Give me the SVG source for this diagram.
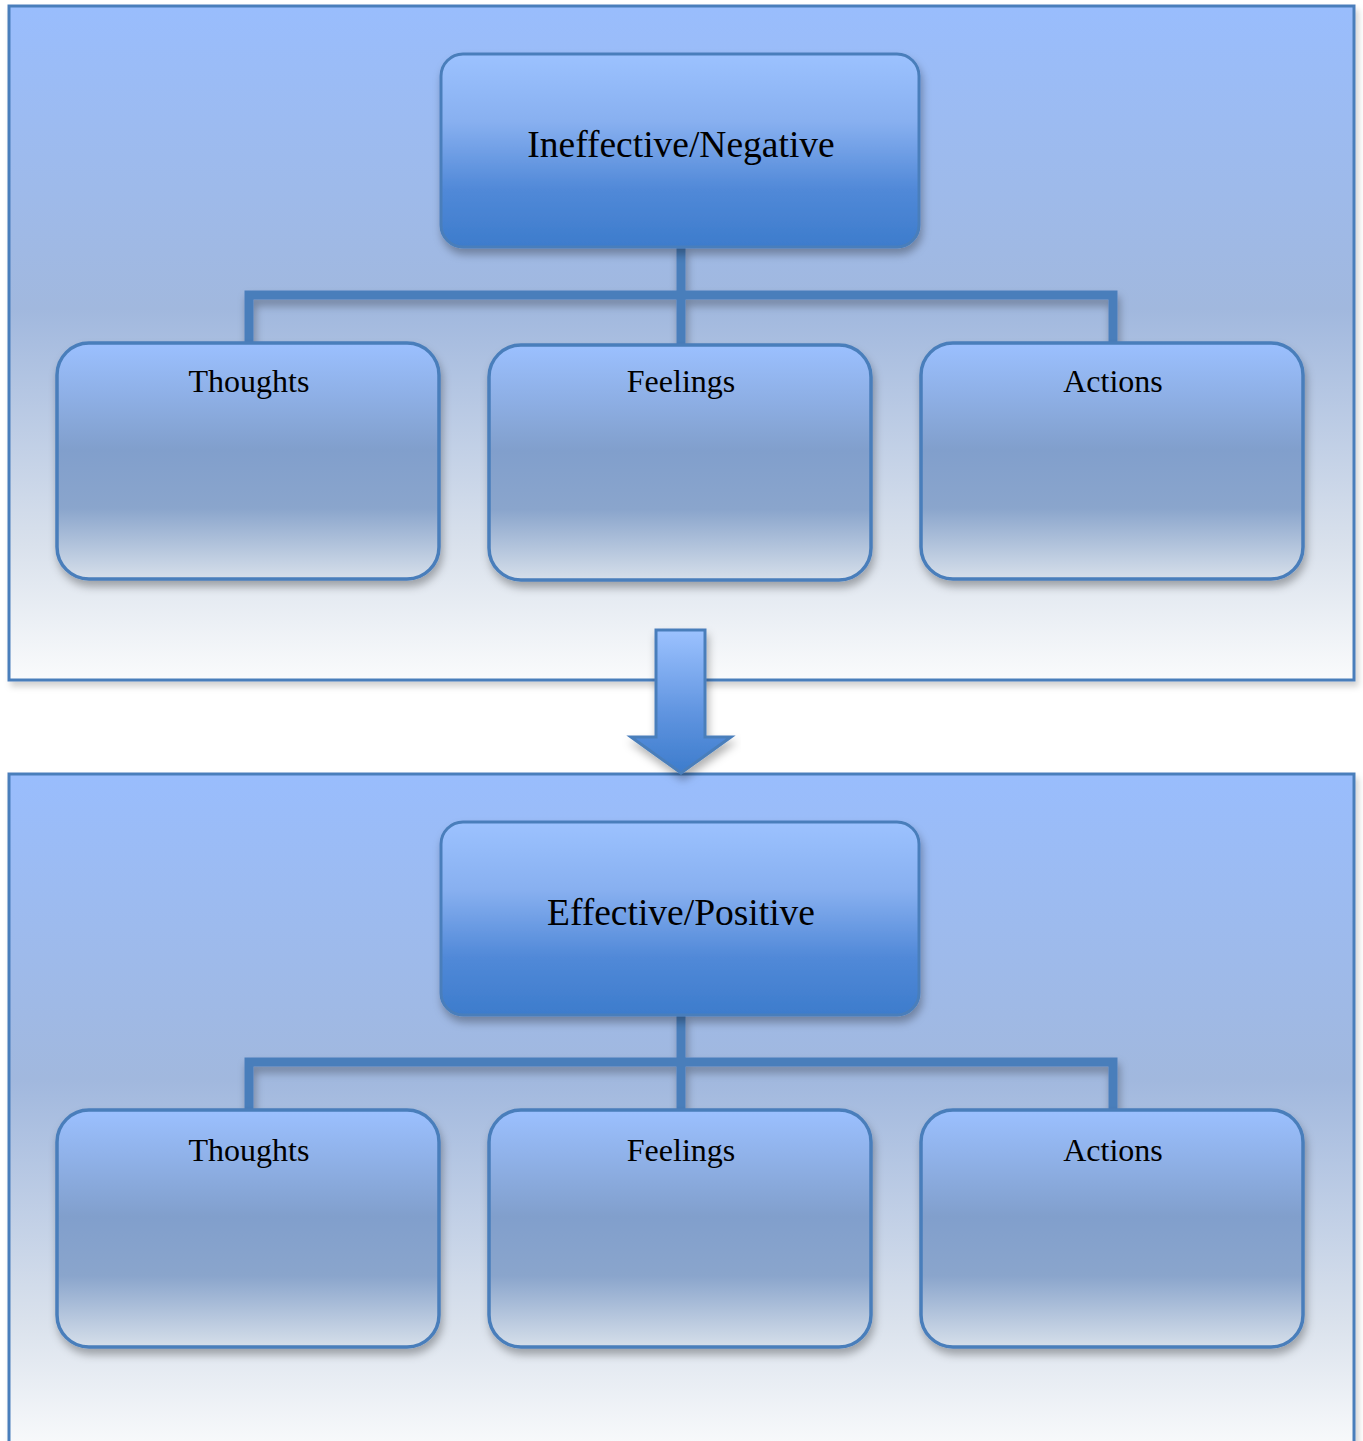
<svg xmlns="http://www.w3.org/2000/svg" width="1363" height="1441" viewBox="0 0 1363 1441">
<defs>
<linearGradient id="gPanel" x1="0" y1="0" x2="0" y2="1">
<stop offset="0" stop-color="#99bdfd"/>
<stop offset="0.45" stop-color="#a1b8de"/>
<stop offset="0.8" stop-color="#d9e1ec"/>
<stop offset="1" stop-color="#fafbfc"/>
</linearGradient>
<linearGradient id="gTop" x1="0" y1="0" x2="0" y2="1">
<stop offset="0" stop-color="#9cc2ff"/>
<stop offset="0.35" stop-color="#88b0f0"/>
<stop offset="0.7" stop-color="#5189d8"/>
<stop offset="1" stop-color="#3d7ccc"/>
</linearGradient>
<linearGradient id="gChild" x1="0" y1="0" x2="0" y2="1">
<stop offset="0" stop-color="#9bc0ff"/>
<stop offset="0.45" stop-color="#819fcc"/>
<stop offset="0.7" stop-color="#8aa5cc"/>
<stop offset="1" stop-color="#d6dfea"/>
</linearGradient>
<linearGradient id="gArrow" x1="0" y1="0" x2="0" y2="1">
<stop offset="0" stop-color="#9cc2ff"/>
<stop offset="0.6" stop-color="#5e93df"/>
<stop offset="1" stop-color="#3d7ccc"/>
</linearGradient>
<filter id="sh" x="-10%" y="-10%" width="120%" height="130%">
<feDropShadow dx="2" dy="6" stdDeviation="4" flood-color="#000" flood-opacity="0.3"/>
</filter>
<filter id="shp" x="-5%" y="-5%" width="110%" height="110%">
<feDropShadow dx="3" dy="5" stdDeviation="3" flood-color="#000" flood-opacity="0.18"/>
</filter>
</defs>
<style>
.panel{fill:url(#gPanel);stroke:#4a7ebb;stroke-width:3}
.top{fill:url(#gTop);stroke:#4a7ebb;stroke-width:3}
.child{fill:url(#gChild);stroke:#4a7ebb;stroke-width:3.5}
.conn{fill:none;stroke:#4a7ebb;stroke-width:9}
.t1{font-family:"Liberation Serif",serif;font-size:37.5px;fill:#000;text-anchor:middle}
.t2{font-family:"Liberation Serif",serif;font-size:32px;fill:#000;text-anchor:middle}
</style>
<rect width="1363" height="1441" fill="#fff"/>
<g id="panel-top"><rect class="panel" x="9" y="6" width="1345" height="674" filter="url(#shp)"/></g>
<g id="panel-bottom"><rect class="panel" x="9" y="774" width="1345" height="680" filter="url(#shp)"/></g>

<g id="connectors">
<path class="conn" d="M681 247V345M249 343V295H1113V343" filter="url(#sh)"/>
<path class="conn" d="M681 1015V1112M249 1110V1062H1113V1110" filter="url(#sh)"/>
</g>

<g id="n-ineffective"><rect class="top" x="441" y="54" width="478" height="193" rx="22" filter="url(#sh)"/><text class="t1" x="681" y="157">Ineffective/Negative</text></g>
<g id="n-thoughts1"><rect class="child" x="57" y="343" width="382" height="236" rx="32" filter="url(#sh)"/><text class="t2" x="249" y="392">Thoughts</text></g>
<g id="n-feelings1"><rect class="child" x="489" y="345" width="382" height="235" rx="32" filter="url(#sh)"/><text class="t2" x="681" y="392">Feelings</text></g>
<g id="n-actions1"><rect class="child" x="921" y="343" width="382" height="236" rx="32" filter="url(#sh)"/><text class="t2" x="1113" y="392">Actions</text></g>

<g id="arrow"><path d="M656 630H705V737H731L681 773L631 737H656Z" fill="url(#gArrow)" stroke="#4a7ebb" stroke-width="3" stroke-linejoin="miter" filter="url(#sh)"/></g>

<g id="n-effective"><rect class="top" x="441" y="822" width="478" height="193" rx="22" filter="url(#sh)"/><text class="t1" x="681" y="925">Effective/Positive</text></g>
<g id="n-thoughts2"><rect class="child" x="57" y="1110" width="382" height="237" rx="32" filter="url(#sh)"/><text class="t2" x="249" y="1161">Thoughts</text></g>
<g id="n-feelings2"><rect class="child" x="489" y="1110" width="382" height="237" rx="32" filter="url(#sh)"/><text class="t2" x="681" y="1161">Feelings</text></g>
<g id="n-actions2"><rect class="child" x="921" y="1110" width="382" height="237" rx="32" filter="url(#sh)"/><text class="t2" x="1113" y="1161">Actions</text></g>
</svg>
